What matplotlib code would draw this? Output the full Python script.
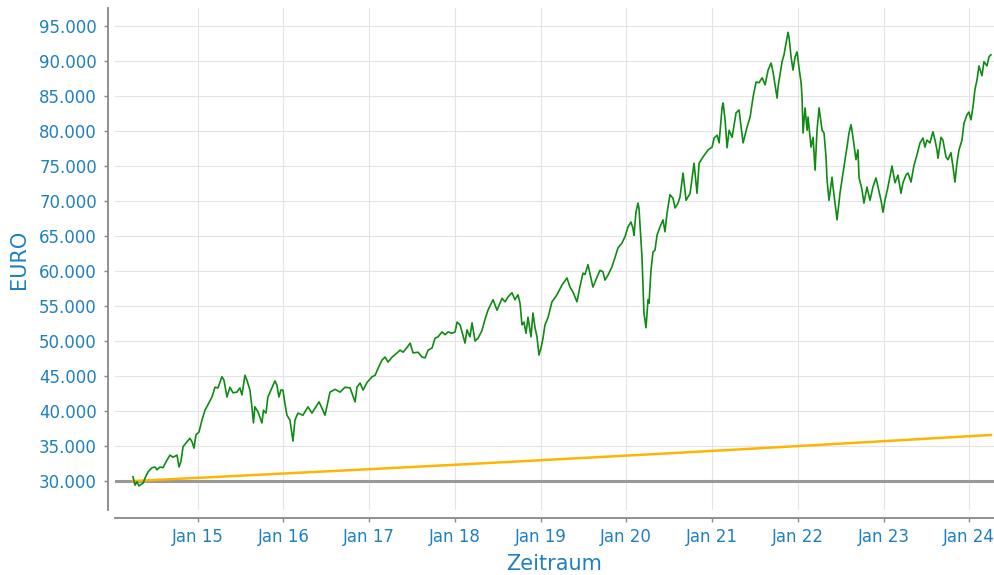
import numpy as np
import matplotlib
matplotlib.use("Agg")
import matplotlib.pyplot as plt
import matplotlib.dates as mdates
from matplotlib.ticker import FixedLocator, FuncFormatter
import datetime as dt

# ---- data (decimal years, EURO) ----
depot_t = [
    2014.245, 2014.269, 2014.292, 2014.315, 2014.362, 2014.385, 2014.420, 2014.467, 2014.502, 2014.525,
    2014.560, 2014.595, 2014.642, 2014.677, 2014.712, 2014.759, 2014.782, 2014.805, 2014.829, 2014.875,
    2014.910, 2014.934, 2014.957, 2014.980, 2015.015, 2015.050, 2015.085, 2015.120, 2015.167, 2015.202,
    2015.237, 2015.283, 2015.307, 2015.342, 2015.377, 2015.412, 2015.458, 2015.493, 2015.517, 2015.552,
    2015.575, 2015.610, 2015.633, 2015.651, 2015.668, 2015.703, 2015.750, 2015.768, 2015.797, 2015.820,
    2015.867, 2015.902, 2015.925, 2015.948, 2015.972, 2015.995, 2016.018, 2016.042, 2016.077, 2016.112,
    2016.135, 2016.170, 2016.228, 2016.287, 2016.333, 2016.368, 2016.415, 2016.450, 2016.485, 2016.543,
    2016.602, 2016.660, 2016.718, 2016.777, 2016.835, 2016.858, 2016.893, 2016.928, 2016.975, 2017.033,
    2017.068, 2017.103, 2017.150, 2017.185, 2017.220, 2017.267, 2017.325, 2017.360, 2017.395, 2017.442,
    2017.477, 2017.512, 2017.570, 2017.617, 2017.652, 2017.687, 2017.733, 2017.768, 2017.803, 2017.850,
    2017.885, 2017.920, 2017.967, 2018.002, 2018.025, 2018.060, 2018.083, 2018.118, 2018.141, 2018.176,
    2018.200, 2018.235, 2018.270, 2018.316, 2018.351, 2018.386, 2018.445, 2018.491, 2018.550, 2018.585,
    2018.620, 2018.666, 2018.701, 2018.736, 2018.760, 2018.783, 2018.806, 2018.830, 2018.853, 2018.888,
    2018.911, 2018.935, 2018.958, 2018.981, 2019.005, 2019.028, 2019.051, 2019.086, 2019.133, 2019.191,
    2019.250, 2019.308, 2019.343, 2019.378, 2019.425, 2019.460, 2019.495, 2019.518, 2019.553, 2019.600,
    2019.611, 2019.658, 2019.693, 2019.728, 2019.751, 2019.786, 2019.833, 2019.868, 2019.903, 2019.950,
    2019.985, 2020.020, 2020.055, 2020.078, 2020.090, 2020.113, 2020.136, 2020.148, 2020.171, 2020.183,
    2020.195, 2020.206, 2020.230, 2020.253, 2020.265, 2020.288, 2020.311, 2020.335, 2020.358, 2020.393,
    2020.428, 2020.451, 2020.475, 2020.509, 2020.544, 2020.568, 2020.603, 2020.626, 2020.661, 2020.696,
    2020.743, 2020.789, 2020.824, 2020.848, 2020.894, 2020.953, 2020.999, 2021.023, 2021.058, 2021.081,
    2021.116, 2021.128, 2021.151, 2021.174, 2021.198, 2021.233, 2021.279, 2021.314, 2021.361, 2021.408,
    2021.443, 2021.478, 2021.513, 2021.548, 2021.583, 2021.618, 2021.653, 2021.688, 2021.711, 2021.758,
    2021.769, 2021.816, 2021.839, 2021.863, 2021.886, 2021.898, 2021.921, 2021.944, 2021.968, 2021.991,
    2022.014, 2022.038, 2022.049, 2022.061, 2022.084, 2022.108, 2022.119, 2022.154, 2022.178, 2022.201,
    2022.224, 2022.248, 2022.283, 2022.306, 2022.329, 2022.341, 2022.364, 2022.399, 2022.411, 2022.434,
    2022.458, 2022.492, 2022.527, 2022.551, 2022.574, 2022.597, 2022.621, 2022.644, 2022.679, 2022.702,
    2022.714, 2022.749, 2022.772, 2022.807, 2022.842, 2022.877, 2022.912, 2022.936, 2022.971, 2022.994,
    2023.017, 2023.052, 2023.099, 2023.134, 2023.169, 2023.204, 2023.227, 2023.262, 2023.286, 2023.321,
    2023.356, 2023.391, 2023.426, 2023.461, 2023.484, 2023.507, 2023.542, 2023.577, 2023.601, 2023.624,
    2023.636, 2023.671, 2023.694, 2023.729, 2023.752, 2023.787, 2023.811, 2023.834, 2023.857, 2023.881,
    2023.916, 2023.939, 2023.974, 2023.997, 2024.021, 2024.044, 2024.067, 2024.091, 2024.114, 2024.149,
    2024.172, 2024.207, 2024.231, 2024.254,
]
depot_v = [
    30600, 29400, 29900, 29300, 29700, 30400, 31300, 31900, 32000, 31600,
    32000, 31900, 33000, 33700, 33400, 33700, 32000, 32800, 34900, 35600,
    36100, 35600, 34700, 36600, 37000, 38700, 40100, 40900, 42000, 43400,
    43300, 44900, 44400, 42000, 43400, 42600, 42700, 43300, 42300, 45100,
    44400, 43000, 40600, 38300, 40600, 39900, 38300, 40100, 39700, 42000,
    43300, 44300, 43700, 42000, 43000, 43000, 41100, 39400, 38700, 35700,
    38700, 39700, 39400, 40600, 39700, 40400, 41300, 40400, 39400, 42700,
    43100, 42700, 43400, 43300, 41300, 43400, 44000, 43000, 44100, 44900,
    45100, 46100, 47300, 47700, 47000, 47700, 48300, 48700, 48400, 49100,
    49700, 48300, 48400, 47700, 47600, 48700, 49000, 50400, 50600, 51300,
    50900, 51300, 51100, 51300, 52700, 52300, 51300, 49700, 51600, 50600,
    52600, 50000, 50400, 51500, 53100, 54400, 55900, 54400, 56100, 55600,
    56300, 56900, 55900, 56600, 55400, 52300, 52700, 51100, 53400, 50600,
    54000, 51900, 50600, 48000, 49000, 50400, 52300, 53300, 55600, 56600,
    58000, 59000, 57700, 57000, 55600, 57800, 59700, 59500, 60900, 58300,
    57700, 59100, 60100, 59900, 58700, 59400, 60600, 61900, 63300, 64000,
    64900, 66300, 67000, 66100, 65100, 68400, 69700, 69000, 64400, 62000,
    57700, 54000, 51900, 55900, 55400, 60100, 62700, 63000, 65100, 66300,
    67300, 65600, 68300, 70900, 70400, 69000, 69700, 70600, 74000, 70100,
    71100, 75400, 71100, 75400, 76300, 77300, 77700, 79000, 79400, 78300,
    83400, 84000, 81600, 77600, 80100, 79100, 82600, 83000, 78300, 80600,
    82000, 84900, 87000, 86900, 87600, 86600, 88700, 89700, 88400, 84700,
    86300, 89900, 90900, 92600, 94100, 93300, 90600, 88700, 90600, 91300,
    89000, 86900, 84900, 79700, 83300, 80100, 82000, 77700, 79100, 74400,
    80100, 83300, 80100, 79700, 76300, 73000, 70100, 73400, 72000, 69700,
    67300, 71100, 74000, 75900, 77700, 79700, 80900, 79100, 75900, 77300,
    73400, 71600, 69700, 72000, 70100, 72000, 73300, 72000, 70100, 68400,
    70100, 72000, 75000, 72600, 73700, 71100, 72600, 73700, 74000, 72700,
    75100, 76600, 78300, 79000, 77700, 78700, 78300, 79900, 78700, 77300,
    76100, 79100, 78700, 76300, 75900, 76900, 74900, 72700, 75400, 77300,
    78700, 81100, 82300, 82700, 81600, 83400, 85900, 87300, 89300, 87900,
    89900, 89300, 90600, 90900,
]
infl_t = [2014.245, 2015.0, 2016.0, 2017.0, 2018.0, 2019.0, 2020.0, 2021.0, 2022.0, 2023.0, 2024.0, 2024.254]
infl_v = [30000, 30450, 31070, 31690, 32320, 32970, 33630, 34300, 34990, 35690, 36400, 36570]
base_value = 30000
y_ticks = list(range(30000, 95001, 5000))
x_years = list(range(2015, 2025))
x_range = (2014.035, 2024.289)
y_range = (25860, 97570)
x_label = "Zeitraum"
y_label = "EURO"


def to_dates(dec_years):
    out = []
    for t in dec_years:
        y = int(np.floor(t))
        start = dt.datetime(y, 1, 1)
        end = dt.datetime(y + 1, 1, 1)
        out.append(start + (end - start) * (t - y))
    return out


BLUE = "#1f80c0"
plt.rcParams["font.family"] = ["DejaVu Sans"]

fig = plt.figure(figsize=(9.94, 5.75), dpi=100)
ax = fig.add_axes([115/994, 65/575, 879/994, 502/575])

ax.plot(to_dates(depot_t), depot_v, color="#0f8a14", lw=1.2, zorder=4, solid_joinstyle="round")
ax.plot(to_dates(infl_t), infl_v, color="#ffb400", lw=1.8, zorder=3)
ax.axhline(base_value, color="#999999", lw=2.2, zorder=2)

ax.set_xlim(*to_dates(x_range))
ax.set_ylim(*y_range)

ax.yaxis.set_major_locator(FixedLocator(y_ticks))
ax.yaxis.set_major_formatter(FuncFormatter(lambda v, p: f"{v:,.0f}".replace(",", ".")))
ax.xaxis.set_major_locator(FixedLocator(mdates.date2num([dt.datetime(y, 1, 1) for y in x_years])))
ax.xaxis.set_major_formatter(mdates.DateFormatter("Jan %y"))

ax.grid(True, color="#e4e4e4", lw=0.8, zorder=0)
for s in ["top", "right"]:
    ax.spines[s].set_visible(False)
ax.spines["left"].set_position(("outward", 5))
ax.spines["bottom"].set_position(("outward", 6))
for s in ["left", "bottom"]:
    ax.spines[s].set_color("#888888")
    ax.spines[s].set_linewidth(1.3)

ax.tick_params(axis="both", colors="#888888", labelcolor=BLUE, labelsize=12, length=3, width=1)
ax.tick_params(axis="y", pad=5)
ax.tick_params(axis="x", pad=4)

ax.set_xlabel(x_label, color=BLUE, fontsize=15, labelpad=6)
ax.set_ylabel(y_label, color=BLUE, fontsize=15, labelpad=7)

fig.savefig("out.png", dpi=100)
